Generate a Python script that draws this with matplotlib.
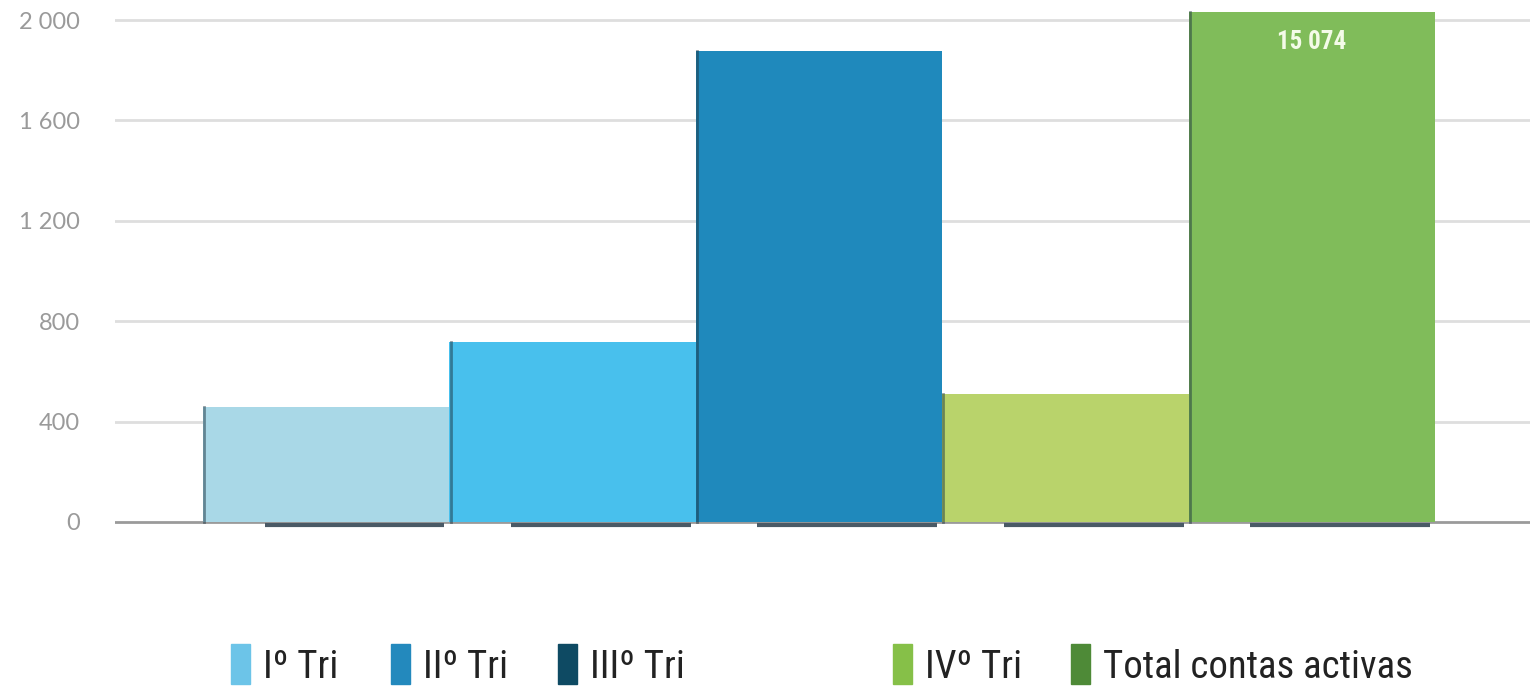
import numpy as np
import matplotlib
matplotlib.use("Agg")
from matplotlib import pyplot as plt
from matplotlib.patches import Rectangle
from matplotlib import font_manager

# data
categories = ["I\u00ba Tri", "II\u00ba Tri", "III\u00ba Tri", "IV\u00ba Tri", "Total contas activas"]
bar_values = [458, 717, 1876, 510, 2032]      # last bar is capped, real value in its label
bar_labels = ["", "", "", "", "15 074"]
bar_colors = ["#a9d8e7", "#48c0ed", "#1f89bc", "#b9d36b", "#80bc5a"]
legend_colors = ["#6cc4e8", "#2389bd", "#0e4a63", "#86c048", "#4e8a37"]
yticks = [0, 400, 800, 1200, 1600, 2000]
ytick_labels = ["0", "400", "800", "1 200", "1 600", "2 000"]

# pick a condensed face if one exists
names = {f.name for f in font_manager.fontManager.ttflist}
cond = [n for n in ["Liberation Sans Narrow", "DejaVu Sans Condensed", "Roboto Condensed",
                    "Open Sans Condensed"] if n in names]
narrow = cond + ["DejaVu Sans"]
stretch = "normal" if cond else "condensed"

fig = plt.figure(figsize=(15.37, 6.87), dpi=100)
ax = fig.add_axes([0.0748, 0.2183, 0.9206, 0.7817])

x = np.arange(len(bar_values))
bars = ax.bar(x, bar_values, width=1.0, color=bar_colors, edgecolor="none", zorder=3)

# dark shadow strip under each bar and a dark left edge
for b in bars:
    x0, w = b.get_x(), b.get_width()
    ax.plot([x0 + 0.25 * w, x0 + 0.98 * w], [-12, -12], color="#4a5a66", lw=3,
            solid_capstyle="butt", zorder=2)
    ax.plot([x0 + 0.005, x0 + 0.005], [0, b.get_height()], color="#1d3440", lw=2,
            alpha=0.5, zorder=4)

for b, lab in zip(bars, bar_labels):
    if lab:
        ax.text(b.get_x() + b.get_width() / 2, b.get_height() - 70, lab,
                ha="center", va="top", color="#f4fbe8", fontsize=18, fontweight="bold",
                family=narrow, fontstretch=stretch, zorder=5)

ax.set_xlim(-0.857, 4.885)
ax.set_ylim(-60, 2080)
ax.set_yticks(yticks)
ax.set_yticklabels(ytick_labels, family=["Lato", "DejaVu Sans"], fontweight="normal",
                   fontsize=17, color="#9a9a9a")
ax.tick_params(axis="y", length=0, pad=25)
ax.set_xticks([])
for s in ax.spines.values():
    s.set_visible(False)
for t in yticks[1:]:
    ax.axhline(t, color="#dedede", lw=2, zorder=1)
ax.axhline(0, color="#9a9a9a", lw=2, zorder=1)

# legend along the bottom, spaced like the original
leg_x = [231, 391, 558, 893, 1071]
for px, lab, c in zip(leg_x, categories, legend_colors):
    fig.patches.append(Rectangle((px / 1537, 1 - 684 / 687), 19 / 1537, 40 / 687,
                                 transform=fig.transFigure, color=c))
    fig.text((px + 32) / 1537, 1 - 678 / 687, lab, ha="left", va="baseline",
             fontsize=28, color="#222222", family=narrow, fontstretch=stretch)

fig.savefig("out.png", dpi=100)
